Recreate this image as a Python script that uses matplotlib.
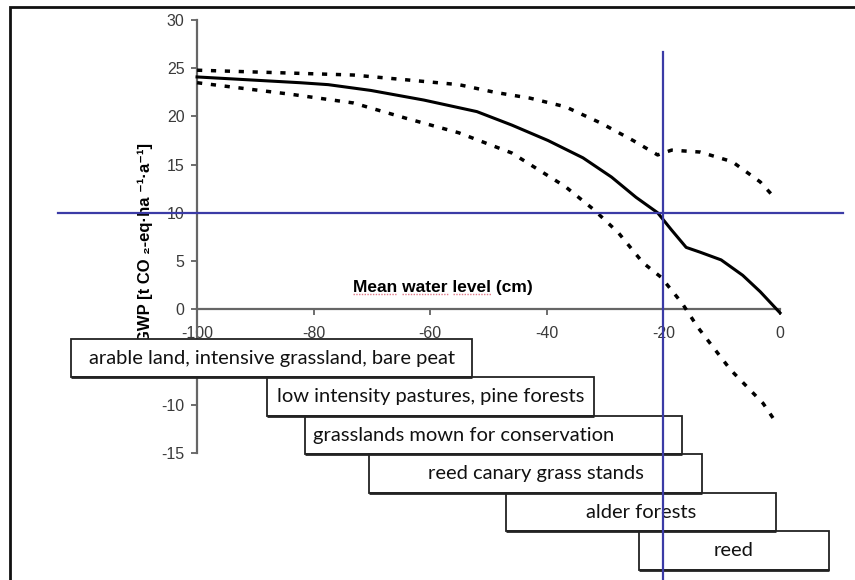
import numpy as np
import matplotlib
matplotlib.use('Agg')
import matplotlib.pyplot as plt
from matplotlib.patches import Rectangle

plt.rcParams['axes.unicode_minus'] = False
plt.rcParams['font.family'] = ['Liberation Sans', 'DejaVu Sans']

# GWP vs mean water level
wl_mid = [-100, -82.3, -77.5, -70.2, -61.1, -52.0, -46.0, -39.8, -33.8, -28.9,
          -24.7, -21.0, -18.6, -16.1, -13.7, -10.1, -6.4, -3.4, 0]
gwp_mid = [24.1, 23.5, 23.3, 22.7, 21.7, 20.5, 19.1, 17.5, 15.7, 13.7,
           11.6, 10.0, 8.2, 6.4, 5.9, 5.1, 3.5, 1.8, -0.4]

wl_up = [-100, -83.9, -73.2, -64.1, -55.1, -48.9, -42.9, -36.8, -30.7, -25.2,
         -21.0, -18.6, -13.7, -8.2, -3.4, -1.0]
gwp_up = [24.8, 24.5, 24.3, 23.8, 23.3, 22.5, 21.9, 21.0, 19.3, 17.5,
          16.0, 16.5, 16.3, 15.3, 13.2, 11.6]

wl_lo = [-100, -83.9, -73.2, -64.1, -55.1, -46.0, -36.8, -31.9, -27.7, -23.5,
         -20.4, -16.8, -14.1, -8.5, -2.9, -1.0]
gwp_lo = [23.5, 22.3, 21.4, 19.8, 18.3, 16.2, 12.7, 10.3, 7.9, 4.8,
          3.3, 0.6, -1.9, -6.3, -9.8, -11.5]

# land use classes and their water level ranges
land_use = ['arable land, intensive grassland, bare peat',
            'low intensity pastures, pine forests',
            'grasslands mown for conservation',
            'reed canary grass stands',
            'alder forests',
            'reed']
lu_from = [-121.6, -88.0, -81.5, -70.5, -47.0, -24.2]
lu_to = [-52.8, -31.9, -16.8, -13.4, -0.7, 8.4]
lu_align = ['center', 'center', 'left', 'center', 'center', 'center']

# y ticks shown (-5 sits under the first box)
y_ticks = [-15, -10, 0, 5, 10, 15, 20, 25, 30]
x_ticks = [-100, -80, -60, -40, -20, 0]

gwp_limit = 10
wl_limit = -20

blue = '#3b3ba6'
dots = (0, (1.5, 2.5))

fig = plt.figure(figsize=(8.55, 5.8), dpi=100)
ax = fig.add_axes([0, 0, 1, 1])
ax.set_xlim(-133.8, 12.86)
ax.set_ylim(-28.14, 32.09)

# axes like the excel chart
for s in ['top', 'right']:
    ax.spines[s].set_visible(False)
ax.spines['left'].set_position(('data', -100))
ax.spines['bottom'].set_position(('data', 0))
ax.spines['left'].set_bounds(-15, 30)
ax.spines['bottom'].set_bounds(-100, 0)
for s in ['left', 'bottom']:
    ax.spines[s].set_color('#666666')
    ax.spines[s].set_linewidth(1.6)
ax.set_yticks(y_ticks)
ax.set_xticks(x_ticks)
ax.tick_params(colors='#555555', labelsize=11.5, length=4, width=1.2,
               labelcolor='#3a3a3a')
ax.tick_params(axis='x', pad=8)
ax.tick_params(axis='y', pad=5)
ax.patch.set_visible(False)

ax.plot(wl_mid, gwp_mid, color='black', lw=2.2, zorder=4)
ax.plot(wl_up, gwp_up, color='black', lw=2.5, ls=dots, zorder=4)
ax.plot(wl_lo, gwp_lo, color='black', lw=2.5, ls=dots, zorder=4)

ax.plot([-123.8, 10.8], [gwp_limit, gwp_limit], color=blue, lw=1.6, zorder=6)
ax.plot([wl_limit, wl_limit], [26.7, -28.5], color=blue, lw=1.6, zorder=6,
        clip_on=False)

xl = ax.text(-57.8, 2.2, 'Mean water level (cm)', ha='center', va='center',
             fontsize=12.5, fontweight='bold')
ax.text(-108.9, 6.9, 'GWP [t CO \u2082-eq\u00b7ha \u207b\u00b9\u00b7a\u207b\u00b9]',
        rotation=90, ha='center', va='center', fontsize=12, fontweight='bold')

# spell-check squiggles under the first three words of the x label
fig.canvas.draw()
rend = fig.canvas.get_renderer()
full = xl.get_window_extent(rend)
probe = ax.text(0, 0, '', fontsize=12.5, fontweight='bold')
s = xl.get_text()
pos = 0
for word in ['Mean', 'water', 'level']:
    i0 = s.index(word, pos)
    pos = i0 + len(word)
    probe.set_text(s[:i0])
    x0 = full.x0 + (probe.get_window_extent(rend).width if i0 else 0)
    probe.set_text(s[:pos])
    x1 = full.x0 + probe.get_window_extent(rend).width
    (dx0, dy), (dx1, _) = ax.transData.inverted().transform(
        [(x0, full.y0 + 1), (x1, full.y0 + 1)])
    ax.plot([dx0, dx1], [dy, dy], color='#e07a8a', lw=1.0, ls=(0, (1, 1)))
probe.remove()

# land use boxes
for i, name in enumerate(land_use):
    top = -3.1 - 4.0 * i
    r = Rectangle((lu_from[i], top - 4.0), lu_to[i] - lu_from[i], 4.0,
                  facecolor='white', edgecolor='#222222', lw=1.3, zorder=5)
    ax.add_patch(r)
    # slightly heavier bottom edge
    ax.plot([lu_from[i], lu_to[i]], [top - 4.0, top - 4.0], color='#222222',
            lw=2.0, zorder=5.2, solid_capstyle='butt')
    if lu_align[i] == 'left':
        tx = lu_from[i] + 1.4
    else:
        tx = (lu_from[i] + lu_to[i]) / 2
    ax.text(tx, top - 2.0, name, ha=lu_align[i], va='center', fontsize=14.5,
            family='Lato', color='#111111', zorder=5.5)

# outer frame
fig.patches.append(Rectangle((10 / 855, -0.05), 1.0, 1 - 7 / 580 + 0.05,
                             transform=fig.transFigure, fill=False,
                             edgecolor='#111111', lw=2.0))

fig.savefig('out.png', dpi=100)
